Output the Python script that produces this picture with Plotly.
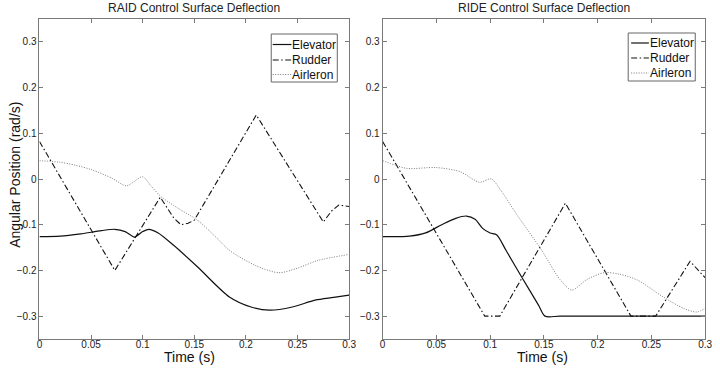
import plotly.graph_objects as go

# ---- data (time in s, angular position in rad/s) ----
raid_elev_t = [0, 0.02, 0.04, 0.06, 0.073, 0.083, 0.092, 0.1, 0.106, 0.115, 0.13, 0.153, 0.184, 0.205, 0.223, 0.245, 0.267, 0.285, 0.3]
raid_elev_y = [-0.126, -0.125, -0.12, -0.113, -0.11, -0.115, -0.127, -0.115, -0.11, -0.118, -0.145, -0.192, -0.258, -0.28, -0.287, -0.28, -0.265, -0.259, -0.254]

raid_rud_t = [0, 0.073, 0.117, 0.13, 0.137, 0.144, 0.15, 0.21, 0.275, 0.283, 0.29, 0.3]
raid_rud_y = [0.082, -0.2, -0.04, -0.085, -0.1, -0.097, -0.09, 0.14, -0.094, -0.07, -0.057, -0.06]

raid_ail_t = [0, 0.019, 0.035, 0.051, 0.07, 0.084, 0.092, 0.1, 0.108, 0.118, 0.135, 0.153, 0.17, 0.184, 0.21, 0.232, 0.25, 0.27, 0.3]
raid_ail_y = [0.04, 0.037, 0.03, 0.02, 0.002, -0.015, -0.005, 0.005, -0.015, -0.039, -0.065, -0.09, -0.125, -0.156, -0.19, -0.205, -0.195, -0.178, -0.165]

ride_elev_t = [0, 0.025, 0.04, 0.055, 0.068, 0.078, 0.086, 0.093, 0.1, 0.106, 0.115, 0.13, 0.145, 0.151, 0.165, 0.2, 0.25, 0.3]
ride_elev_y = [-0.126, -0.125, -0.118, -0.1, -0.086, -0.081, -0.088, -0.108, -0.118, -0.122, -0.157, -0.217, -0.276, -0.3, -0.3, -0.3, -0.3, -0.3]

ride_rud_t = [0, 0.095, 0.109, 0.17, 0.231, 0.254, 0.286, 0.3]
ride_rud_y = [0.082, -0.3, -0.3, -0.053, -0.3, -0.3, -0.18, -0.216]

ride_ail_t = [0, 0.012, 0.023, 0.05, 0.072, 0.09, 0.101, 0.11, 0.124, 0.148, 0.165, 0.176, 0.19, 0.206, 0.22, 0.237, 0.261, 0.28, 0.292, 0.3]
ride_ail_y = [0.04, 0.03, 0.023, 0.025, 0.016, -0.007, 0.0, -0.025, -0.075, -0.156, -0.22, -0.243, -0.22, -0.205, -0.208, -0.221, -0.258, -0.283, -0.291, -0.283]

series_names = ["Elevator", "Rudder", "Airleron"]
titles = ["RAID Control Surface Deflection", "RIDE Control Surface Deflection"]
x_ticks = [0, 0.05, 0.1, 0.15, 0.2, 0.25, 0.3]
y_ticks = [-0.3, -0.2, -0.1, 0, 0.1, 0.2, 0.3]

FONT = "Liberation Sans"
W, H = 720, 368

styles = [
    dict(color="#111111", width=1.2, dash="solid"),
    dict(color="#111111", width=1.1, dash="6px,2.5px,1.5px,2.5px"),
    dict(color="#7a7a7a", width=1.0, dash="1px,1.5px"),
]
shapes_kind = ["spline", "linear", "spline"]

fig = go.Figure()

def add_set(data, xa, ya):
    for i, (t, y) in enumerate(data):
        ln = dict(styles[i], shape=shapes_kind[i])
        if shapes_kind[i] == "spline":
            ln["smoothing"] = 0.8
        fig.add_trace(go.Scatter(x=t, y=y, name=series_names[i], mode="lines", line=ln,
                                 xaxis=xa, yaxis=ya, showlegend=False))

add_set([(raid_elev_t, raid_elev_y), (raid_rud_t, raid_rud_y), (raid_ail_t, raid_ail_y)], "x", "y")
add_set([(ride_elev_t, ride_elev_y), (ride_rud_t, ride_rud_y), (ride_ail_t, ride_ail_y)], "x2", "y2")

ydom = [1 - 339 / H, 1 - 19 / H]
axis_common = dict(showgrid=False, zeroline=False, showline=True, linecolor="#7a7a7a", linewidth=1,
                   mirror="ticks", ticks="inside", ticklen=4, tickcolor="#7a7a7a",
                   tickfont=dict(family=FONT, size=10, color="#222222"))

fig.update_layout(
    width=W, height=H, margin=dict(l=0, r=0, t=0, b=0),
    paper_bgcolor="white", plot_bgcolor="white", showlegend=False,
    xaxis=dict(domain=[37 / W, 351 / W], range=[0, 0.3], tickvals=x_ticks, anchor="y",
               ticklabelstandoff=-4, **axis_common),
    yaxis=dict(domain=ydom, range=[-0.35, 0.35], tickvals=y_ticks, anchor="x", **axis_common),
    xaxis2=dict(domain=[385 / W, 712 / W], range=[0, 0.3], tickvals=x_ticks, anchor="y2",
                ticklabelstandoff=-4, **axis_common),
    yaxis2=dict(domain=ydom, range=[-0.35, 0.35], tickvals=y_ticks, anchor="x2", **axis_common),
)

def px(x):
    return x / W

def py(y):
    return 1 - y / H

# manual legends (box, sample lines, labels)
legends = [
    dict(box=(272, 34, 339, 82), rows=[44.5, 60, 74.5], lx=(273.5, 292.5), tx=291),
    dict(box=(634, 33, 702, 81), rows=[43, 58, 73], lx=(637, 655), tx=654),
]
for lg in legends:
    x0, y0, x1, y1 = lg["box"]
    fig.add_shape(type="rect", xref="paper", yref="paper", x0=px(x0), x1=px(x1), y0=py(y1), y1=py(y0),
                  line=dict(color="#666666", width=1), fillcolor="white", layer="above")
    for i, ry in enumerate(lg["rows"]):
        fig.add_shape(type="line", xref="paper", yref="paper", x0=px(lg["lx"][0]), x1=px(lg["lx"][1]),
                      y0=py(ry), y1=py(ry), line=dict(color=styles[i]["color"], width=styles[i]["width"],
                                                      dash=styles[i]["dash"]), layer="above")
        fig.add_annotation(xref="paper", yref="paper", x=px(lg["tx"]), y=py(ry), text=series_names[i],
                           showarrow=False, xanchor="left", yanchor="middle",
                           font=dict(family=FONT, size=12, color="#111111"))

for xc, t in zip([194, 548.5], titles):
    fig.add_annotation(xref="paper", yref="paper", x=px(xc), y=py(8), text=t, showarrow=False,
                       xanchor="center", yanchor="middle", font=dict(family=FONT, size=12, color="#222222"))

for xc in [189, 547]:
    fig.add_annotation(xref="paper", yref="paper", x=px(xc), y=py(357), text="Time (s)", showarrow=False,
                       xanchor="center", yanchor="middle", font=dict(family=FONT, size=14, color="#111111"))

fig.add_annotation(xref="paper", yref="paper", x=px(12), y=py(175), text="Angular Position (rad/s)",
                   showarrow=False, textangle=-90, xanchor="center", yanchor="middle",
                   font=dict(family=FONT, size=14, color="#111111"))

fig.write_html("out.html")
